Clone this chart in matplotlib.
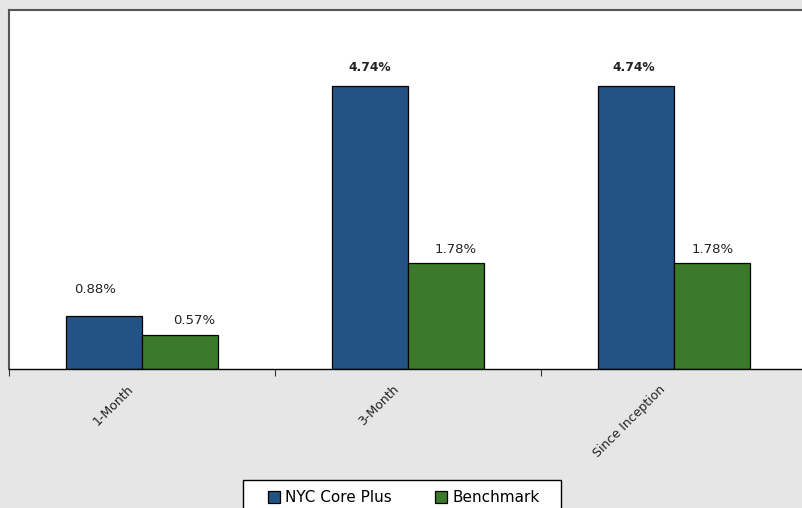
import matplotlib
matplotlib.use("Agg")
import matplotlib.pyplot as plt
from matplotlib.ticker import FixedLocator
from matplotlib.patches import Rectangle
import matplotlib.transforms as mtransforms
import numpy as np

categories = ["1-Month", "3-Month", "Since Inception"]
series_names = ["NYC Core Plus", "Benchmark"]
nyc_core_plus = [0.88, 4.74, 4.74]
benchmark = [0.57, 1.78, 1.78]

# label style: offsets in pixels (dx, gap above bar) and weights, per series
label_dx = [[-9, 0, -2], [14, 9.5, 1]]
label_gap = [[23, 15, 15], [11, 10, 10]]
label_weight = [["normal", "bold", "bold"], ["normal", "normal", "normal"]]

W, H = 802, 508
fig = plt.figure(figsize=(W / 100, H / 100), dpi=100, facecolor="#e6e6e6")
ax = fig.add_axes([9 / W, (H - 369) / H, (807 - 9) / W, (369 - 10) / H])
ax.set_facecolor("white")

colors = ["#235284", "#3a7a2a"]
bw = 0.2857
x = np.arange(len(categories))
series = [nyc_core_plus, benchmark]
handles = []
for i, (vals, name, c) in enumerate(zip(series, series_names, colors)):
    pos = x + (i - 0.5) * bw
    bars = ax.bar(pos, vals, width=bw, color=c, edgecolor="black", linewidth=0.9, label=name)
    handles.append(bars)
    for j, (b, v) in enumerate(zip(bars, vals)):
        wt = label_weight[i][j]
        ax.annotate(f"{v:.2f}%", (b.get_x() + b.get_width() / 2, v),
                    xytext=(label_dx[i][j] * 0.72, label_gap[i][j] * 0.72),
                    textcoords="offset points",
                    ha="center", va="baseline",
                    fontsize=8.8 if wt == "bold" else 9.5,
                    fontweight=wt, color="#222222")

ax.set_xlim(-0.5, 2.5)
ax.set_ylim(0, 6.01)
ax.set_yticks([])
ax.set_xticks(x)
ax.set_xticklabels(categories, rotation=45, ha="right", rotation_mode="anchor",
                   fontsize=9, color="#222222")
ax.tick_params(axis="x", which="major", length=0, pad=8)
shift = mtransforms.ScaledTranslation(-11 / 72, -2 / 72, fig.dpi_scale_trans)
for lbl in ax.get_xticklabels():
    lbl.set_transform(lbl.get_transform() + shift)
ax.xaxis.set_minor_locator(FixedLocator([-0.5, 0.5, 1.5]))
ax.tick_params(axis="x", which="minor", length=5, width=0.8, color="#333333")

for s in ["top", "left"]:
    ax.spines[s].set_color("#555555")
    ax.spines[s].set_linewidth(1.5)
ax.spines["bottom"].set_color("black")
ax.spines["bottom"].set_linewidth(1.0)
ax.spines["right"].set_visible(False)

# legend box
fig.patches.append(Rectangle((243 / W, 1 - 516 / H), (561 - 243) / W, 36 / H,
                             transform=fig.transFigure, facecolor="white",
                             edgecolor="black", linewidth=1.0, zorder=0))
leg = fig.legend(handles=handles, labels=series_names, loc="center",
                 bbox_to_anchor=(403.5 / W, 1 - 498 / H), ncol=2,
                 frameon=False, fontsize=11, handlelength=0.79, handleheight=0.79,
                 handletextpad=0.33, columnspacing=2.85, borderpad=0, borderaxespad=0)

fig.savefig("out.png", dpi=100, facecolor=fig.get_facecolor())
